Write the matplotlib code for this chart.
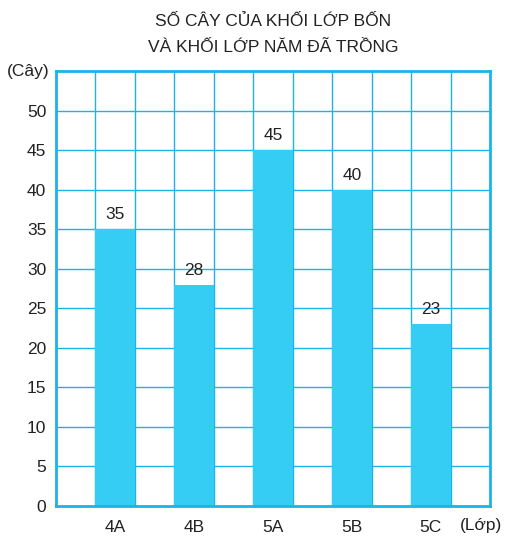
import matplotlib
matplotlib.use("Agg")
import matplotlib.pyplot as plt

classes = ["4A", "4B", "5A", "5B", "5C"]
trees = [35, 28, 45, 40, 23]
y_ticks = [0, 5, 10, 15, 20, 25, 30, 35, 40, 45, 50]

plt.rcParams["font.family"] = ["Liberation Sans", "DejaVu Sans"]
text_color = "#222222"

bar_color = "#36cdf4"
grid_color = "#1db3e8"

fig = plt.figure(figsize=(5.28, 5.41), dpi=100)
ax = fig.add_axes([56 / 528, 1 - 506 / 541, 434 / 528, 435 / 541])

# bars sit in every second column of the grid
xpos = [1.5 + 2 * i for i in range(len(classes))]
ax.bar(xpos, trees, width=1.0, color=bar_color, zorder=2)
for x, v in zip(xpos, trees):
    ax.text(x, v + 1.8, str(v), ha="center", va="center", fontsize=12.5,
            color=text_color, zorder=3)

# grid lines
for gx in range(1, 11):
    ax.axvline(gx, color=grid_color, lw=1.0, zorder=1)
for gy in range(5, 55, 5):
    ax.axhline(gy, color=grid_color, lw=1.0, zorder=1)

ax.set_xlim(0, 11)
ax.set_ylim(0, 55)
for s in ax.spines.values():
    s.set_color(grid_color)
    s.set_linewidth(2.0)

ax.set_yticks(y_ticks)
ax.set_yticklabels([str(t) for t in y_ticks], fontsize=12.5, color=text_color)
ax.set_xticks(xpos)
ax.set_xticklabels(classes, fontsize=12.5, color=text_color)
ax.tick_params(length=0, pad=7)
ax.tick_params(axis="x", pad=10)

ax.text(-0.7, 54.9, "(Cây)", ha="center", va="center", fontsize=12.5, color=text_color)
ax.text(10.77, -2.5, "(Lớp)", ha="center", va="center", fontsize=12.5,
        color=text_color, clip_on=False)

fig.text(0.517, 1 - 22 / 541, "SỐ CÂY CỦA KHỐI LỚP BỐN", ha="center", va="center",
         fontsize=12.5, color=text_color)
fig.text(0.517, 1 - 47 / 541, "VÀ KHỐI LỚP NĂM ĐÃ TRỒNG", ha="center", va="center",
         fontsize=12.5, color=text_color)

fig.savefig("out.png", dpi=100)
